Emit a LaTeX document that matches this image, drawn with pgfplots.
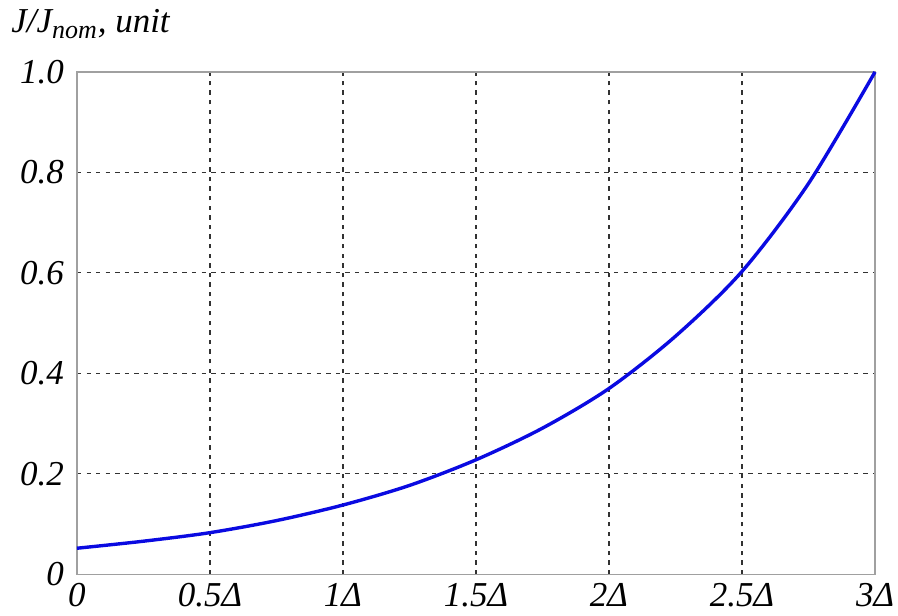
\documentclass[border=0pt]{standalone}
\usepackage{fontspec}
\setmainfont{Liberation Serif}
\usepackage{pgfplots}
\pgfplotsset{compat=1.18}
\definecolor{curveblue}{RGB}{10,10,225}
\definecolor{framegray}{RGB}{160,160,160}
\definecolor{gridgray}{RGB}{50,50,50}
\begin{document}
\begin{tikzpicture}
\useasboundingbox (-38.5pt,-20.5pt) rectangle (411pt,287.5pt);
\begin{axis}[
  at={(0,0)}, anchor=south west,
  scale only axis,
  width=399.5pt, height=251.5pt,
  xmin=0, xmax=3, ymin=0, ymax=1,
  xtick={0,0.5,1,1.5,2,2.5,3},
  xticklabels={0,0.5Δ,1Δ,1.5Δ,2Δ,2.5Δ,3Δ},
  ytick={0,0.2,0.4,0.6,0.8,1},
  yticklabels={0,0.2,0.4,0.6,0.8,1.0},
  major tick length=0pt,
  tick label style={font=\fontsize{17.5}{20}\selectfont\itshape},
  xticklabel style={yshift=-1pt},
  yticklabel style={xshift=-3pt},
  /pgf/number format/assume math mode=true,
  axis line style={framegray, line width=0.8pt},
  grid=major,
  major grid style={gridgray, line width=0.6pt, dash pattern=on 2.2pt off 2.6pt},
  title={\fontsize{17.5}{20}\selectfont\itshape J/J\textsubscript{\fontsize{13}{15}\selectfont nom}, unit},
  title style={at={(0,1)}, anchor=base west, xshift=-33pt, yshift=13.5pt, inner sep=0pt},
  clip=false,
]
\addplot[curveblue, line width=1.7pt, smooth] coordinates {
 (0,0.052) (0.25,0.066) (0.5,0.083) (0.75,0.107) (1.0,0.138)
 (1.25,0.177) (1.5,0.228) (1.75,0.291) (2.0,0.370) (2.25,0.474)
 (2.5,0.603) (2.75,0.778) (3.0,1.0)
};
\end{axis}
\end{tikzpicture}
\end{document}
